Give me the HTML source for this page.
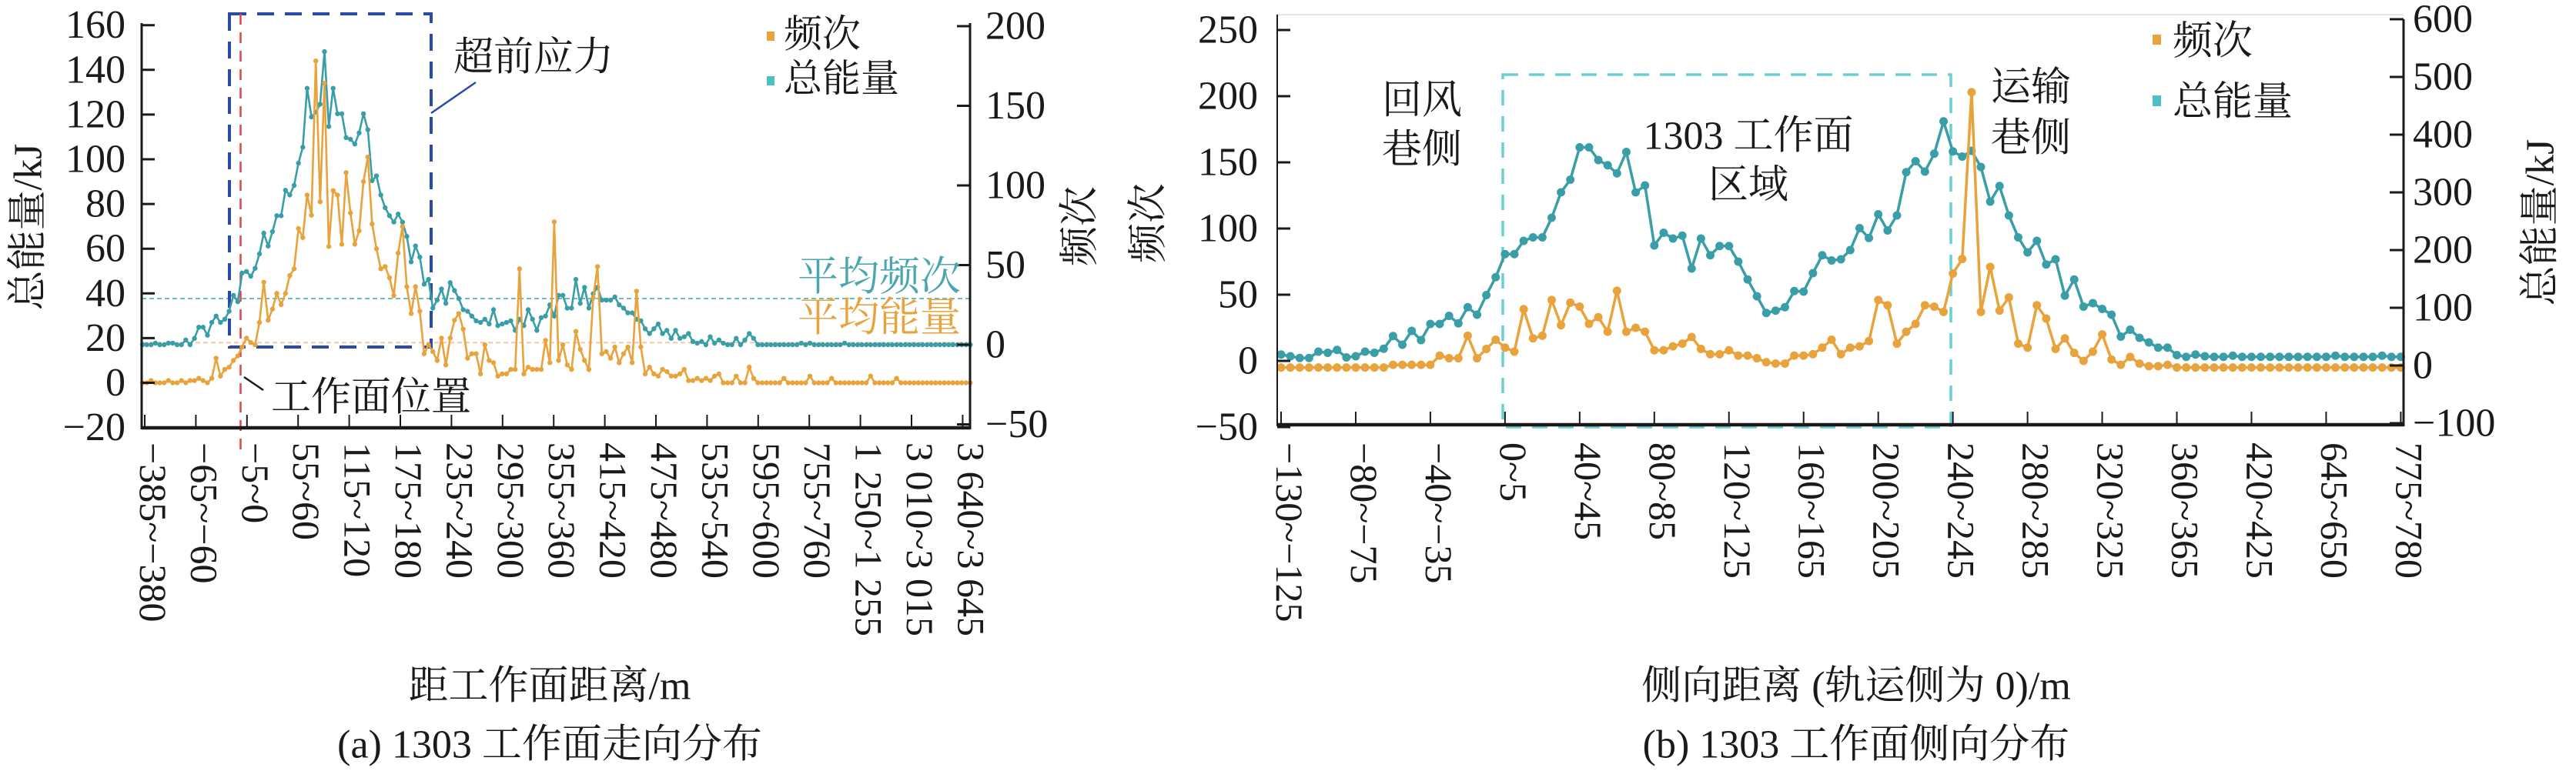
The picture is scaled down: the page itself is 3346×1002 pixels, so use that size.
<!DOCTYPE html>
<html><head><meta charset="utf-8">
<style>
html,body{margin:0;padding:0;background:#fff;}
svg{display:block;}
text{font-family:"Liberation Serif","Noto Serif CJK SC",serif;fill:#1a1a1a;}
</style></head>
<body>
<svg id="chart" width="3346" height="1002" viewBox="0 0 3346 1002" xmlns="http://www.w3.org/2000/svg">
<rect x="0" y="0" width="3346" height="1002" fill="#fff"/>
<g id="gA"></g>
<g id="gB"></g>
</svg>
<script>
// ---------- Chart (a) data ----------
const aXTickLabels = ["−385~−380","−65~−60","−5~0","55~60","115~120","175~180","235~240","295~300","355~360","415~420","475~480","535~540","595~600","755~760","1 250~1 255","3 010~3 015","3 640~3 645"];
const aLeftTicks = [160,140,120,100,80,60,40,20,0,-20];
const aRightTicks = [200,150,100,50,0,-50];
const aFreq = [0,0,1,0,0,0,1,0,0,1,0,1,1,2,1,0,
 2,11,3,6,7,10,12,16,20,18,17,27,45,28,33,40,35,40,48,51,69,65,84,75,144,81,134,61,86,84,62,94,76,62,68,90,101,71,60,51,52,47,39,58,70,43,31,43,32,13,17,14,10,20,8,20,28,
 31,24,11,13,13,4,17,10,9,3,4,4,6,6,51,4,7,6,6,6,19,9,72,10,17,8,6,23,15,10,6,38,52,13,14,11,16,9,13,16,9,41,16,4,7,4,3,6,5,3,3,4,6,1,1,2,1,2,1,3,4,0,0,0,3,0,0,7,2,0,
 0,0,0,0,0,2,0,0,0,0,0,3,0,0,0,0,2,0,0,0,0,0,0,0,0,3,0,0,0,0,0,2,0,0,0,0,0,0,0,0,0,0,0,0,0,0,0,0,0];
const aEnergy = [0,0,0,1,0,0,1,1,0,0,
 3,0,4,11,11,6,14,18,14,16,21,31,27,45,46,43,48,57,70,62,71,81,81,97,94,100,114,124,161,143,146,151,184,137,161,145,145,130,129,126,133,145,135,103,106,94,86,81,77,82,77,68,52,62,55,38,41,23,28,35,26,39,34,
 29,22,21,18,15,14,16,13,22,12,13,14,15,9,16,12,22,16,9,17,18,25,18,31,31,23,23,41,26,36,23,32,36,28,28,28,30,25,23,20,20,16,15,10,7,10,13,7,9,4,9,4,5,7,2,1,2,0,5,1,3,1,0,0,4,0,3,7,4,0,
 0,0,0,0,0,0,0,0,0,1,0,1,0,0,0,0,0,0,0,1,0,0,0,0,0,0,0,0,0,0,0,0,0,0,0,0,0,0,0,0,0,0,0,0,0,0,0,0,0];
const aAvgFreq = [29];
const aAvgEnergy = [18];

// ---------- Chart (b) data ----------
const bXTickLabels = ["−130~−125","−80~−75","−40~−35","0~5","40~45","80~85","120~125","160~165","200~205","240~245","280~285","320~325","360~365","420~425","645~650","775~780"];
const bLeftTicks = [250,200,150,100,50,0,-50];
const bRightTicks = [600,500,400,300,200,100,0,-100];
const bFreq = [-5,-5,-5,-5,-5,-5,-5,-5,-5,-5,-5,-5,-3,-3,-3,-3,-3,
 4,2,2,19,2,9,16,10,7,39,17,19,46,27,44,41,28,33,22,53,22,25,22,8,8,11,13,18,9,5,5,8,4,4,2,-1,-2,-2,4,4,5,10,16,5,10,11,
 15,46,42,13,22,28,42,41,37,66,77,203,37,71,38,48,13,10,42,32,9,17,6,0,7,20,1,-3,3,-2,-4,-4,-3,-5,-5,-5,-5,
 -5,-5,-5,-5,-5,-5,-5,-5,-5,-5,-5,-5,-5,-5,-5,-5,-5,-5,-5,-5,-5];
const bEnergy = [19,16,13,13,24,22,27,14,16,24,22,29,51,36,60,44,72,72,86,73,101,88,122,153,193,193,216,222,222,256,300,322,378,378,356,347,333,370,300,312,208,230,220,225,168,220,191,207,207,180,149,120,91,95,101,129,128,160,191,182,184,200,238,
 221,262,234,260,335,354,336,367,423,371,362,372,344,284,311,260,222,196,216,175,184,121,149,102,108,98,88,50,62,48,40,31,31,18,15,19,16,
 15,15,17,15,15,15,15,15,15,15,15,15,15,17,15,15,15,15,17,15,15];

const NS = "http://www.w3.org/2000/svg";
const ORANGE = "#E8A33C", TEAL = "#3A9EA8";
function mk(parent, tag, attrs, txt){
  const e = document.createElementNS(NS, tag);
  for (const k in attrs) e.setAttribute(k, attrs[k]);
  if (txt !== undefined) e.textContent = txt;
  parent.appendChild(e);
  return e;
}

// ================= Chart A =================
(function(){
  const g = document.getElementById('gA');
  const X0 = 184, X1 = 1260, YB = 556;
  const xA = i => 185 + i * 5.63;
  const yL = v => 497.5 - v * 2.905;
  const yR = v => 448 - v * 2.07;
  const tickX = k => 188 + k * 66.4;

  // average lines
  let e = mk(g,'line',{x1:X0,x2:X1,y1:yR(aAvgFreq[0]),y2:yR(aAvgFreq[0]),stroke:'#6BBFC4','stroke-width':2,'stroke-dasharray':'6,4'});
   
  e = mk(g,'line',{x1:X0,x2:X1,y1:yL(aAvgEnergy[0]),y2:yL(aAvgEnergy[0]),stroke:'#F2C9A8','stroke-width':2,'stroke-dasharray':'6,4'});
   

  // advance stress box
  e = mk(g,'rect',{x:298,y:18,width:262,height:433,fill:'none',stroke:'#2A4BA5','stroke-width':4,'stroke-dasharray':'22,14'});
   
  e = mk(g,'line',{x1:312.5,x2:312.5,y1:18,y2:585,stroke:'#E3424F','stroke-width':2.5,'stroke-dasharray':'14,10'});
   

  // energy series (teal)
  let pts = aEnergy.map((v,i)=>xA(i).toFixed(1)+','+yR(v).toFixed(1)).join(' ');
  e = mk(g,'polyline',{points:pts,fill:'none',stroke:TEAL,'stroke-width':2.6});
   
  aEnergy.forEach((v,i)=>{
    const c = mk(g,'circle',{cx:xA(i),cy:yR(v),r:3.2,fill:TEAL});
    
    
  });
  // frequency series (orange)
  pts = aFreq.map((v,i)=>xA(i).toFixed(1)+','+yL(v).toFixed(1)).join(' ');
  e = mk(g,'polyline',{points:pts,fill:'none',stroke:ORANGE,'stroke-width':2.6});
   
  aFreq.forEach((v,i)=>{
    const c = mk(g,'circle',{cx:xA(i),cy:yL(v),r:3.2,fill:ORANGE});
    
    
  });

  // axes
  e = mk(g,'line',{x1:X0,x2:X0,y1:30,y2:YB+2,stroke:'#1a1a1a','stroke-width':3});
   
  e = mk(g,'line',{x1:X1,x2:X1,y1:30,y2:YB+2,stroke:'#1a1a1a','stroke-width':3});
   
  e = mk(g,'line',{x1:X0,x2:X1,y1:YB,y2:YB,stroke:'#1a1a1a','stroke-width':4.5});
   

  aLeftTicks.forEach(v=>{
    const y = yL(v);
    const t = mk(g,'line',{x1:X0,x2:X0+17,y1:y,y2:y,stroke:'#1a1a1a','stroke-width':3});
     
    const l = mk(g,'text',{x:163,y:y,'text-anchor':'end','dominant-baseline':'central','font-size':52}, v<0?'−'+Math.abs(v):String(v));
     
  });
  aRightTicks.forEach(v=>{
    const y = yR(v);
    const t = mk(g,'line',{x1:X1-17,x2:X1,y1:y,y2:y,stroke:'#1a1a1a','stroke-width':3});
     
    const l = mk(g,'text',{x:1280,y:y,'text-anchor':'start','dominant-baseline':'central','font-size':52}, v<0?'−'+Math.abs(v):String(v));
     
  });
  aXTickLabels.forEach((s,k)=>{
    const x = tickX(k);
    const t = mk(g,'line',{x1:x,x2:x,y1:YB-17,y2:YB,stroke:'#1a1a1a','stroke-width':2});
     
    const l = mk(g,'text',{x:0,y:0,transform:'translate('+(x+11)+',575) rotate(90)','text-anchor':'start','dominant-baseline':'central','font-size':50}, s);
     
  });

  // titles & annotations
  e = mk(g,'text',{x:0,y:0,transform:'translate(37,295) rotate(-90)','text-anchor':'middle','dominant-baseline':'central','font-size':52},'总能量/kJ');
   
  e = mk(g,'text',{x:0,y:0,transform:'translate(1403,294) rotate(-90)','text-anchor':'middle','dominant-baseline':'central','font-size':52},'频次');
   
  e = mk(g,'text',{x:714,y:892,'text-anchor':'middle','dominant-baseline':'central','font-size':52},'距工作面距离/m');
   
  e = mk(g,'text',{x:714,y:968,'text-anchor':'middle','dominant-baseline':'central','font-size':52},'(a) 1303 工作面走向分布');
   
  e = mk(g,'text',{x:589,y:75,'dominant-baseline':'central','font-size':52},'超前应力');
   
  e = mk(g,'line',{x1:618,y1:107,x2:560,y2:147,stroke:'#2A4BA5','stroke-width':2.5});
   
  e = mk(g,'text',{x:352,y:517,'dominant-baseline':'central','font-size':52},'工作面位置');
   
  e = mk(g,'line',{x1:317,y1:490,x2:342,y2:507,stroke:'#1a1a1a','stroke-width':2.5});
   
  e = mk(g,'text',{x:1036,y:360,'dominant-baseline':'central','font-size':53,style:'fill:#4AA7AF'},'平均频次');
   
  e = mk(g,'text',{x:1036,y:413,'dominant-baseline':'central','font-size':53,style:'fill:#E8A33C'},'平均能量');
   
  // legend
  e = mk(g,'rect',{x:996,y:41,width:10,height:12,fill:ORANGE});
   
  e = mk(g,'text',{x:1018,y:44,'dominant-baseline':'central','font-size':50},'频次');
   
  e = mk(g,'rect',{x:996,y:99,width:10,height:12,fill:'#4DBFC6'});
   
  e = mk(g,'text',{x:1018,y:102,'dominant-baseline':'central','font-size':50},'总能量');
   
})();

// ================= Chart B =================
(function(){
  const g = document.getElementById('gB');
  const X0 = 1659, X1 = 3122, YB = 552;
  const xB = i => 1664 + i * 12.12;
  const yL = v => 469 - v * 1.72;
  const yR = v => 475 - v * 0.75;

  let e = mk(g,'line',{x1:X0,x2:X1,y1:19,y2:19,stroke:'#e6e6e6','stroke-width':2});
   
  e = mk(g,'rect',{x:1952,y:97,width:582,height:458,fill:'none',stroke:'#6ACFD4','stroke-width':3.5,'stroke-dasharray':'20,14'});
   

  let pts = bEnergy.map((v,i)=>xB(i).toFixed(1)+','+yR(v).toFixed(1)).join(' ');
  e = mk(g,'polyline',{points:pts,fill:'none',stroke:TEAL,'stroke-width':3.5});
   
  bEnergy.forEach((v,i)=>{
    const c = mk(g,'circle',{cx:xB(i),cy:yR(v),r:5.5,fill:TEAL});
    
    
  });
  pts = bFreq.map((v,i)=>xB(i).toFixed(1)+','+yL(v).toFixed(1)).join(' ');
  e = mk(g,'polyline',{points:pts,fill:'none',stroke:ORANGE,'stroke-width':3.5});
   
  bFreq.forEach((v,i)=>{
    const c = mk(g,'circle',{cx:xB(i),cy:yL(v),r:5.5,fill:ORANGE});
    
    
  });

  e = mk(g,'line',{x1:X0,x2:X0,y1:19,y2:YB+2,stroke:'#1a1a1a','stroke-width':2});
   
  e = mk(g,'line',{x1:X1,x2:X1,y1:25,y2:YB+2,stroke:'#1a1a1a','stroke-width':3});
   
  e = mk(g,'line',{x1:X0,x2:X1,y1:YB,y2:YB,stroke:'#1a1a1a','stroke-width':4.5});
   

  bLeftTicks.forEach(v=>{
    const y = yL(v);
    const t = mk(g,'line',{x1:X0,x2:X0+17,y1:y,y2:y,stroke:'#1a1a1a','stroke-width':3});
     
    const l = mk(g,'text',{x:1634,y:y,'text-anchor':'end','dominant-baseline':'central','font-size':52}, v<0?'−'+Math.abs(v):String(v));
     
  });
  bRightTicks.forEach(v=>{
    const y = yR(v);
    const t = mk(g,'line',{x1:X1-18,x2:X1,y1:y,y2:y,stroke:'#1a1a1a','stroke-width':3});
     
    const l = mk(g,'text',{x:3134,y:y,'text-anchor':'start','dominant-baseline':'central','font-size':52}, v<0?'−'+Math.abs(v):String(v));
     
  });
  bXTickLabels.forEach((s,k)=>{
    const x = xB(k*8);
    const t = mk(g,'line',{x1:x,x2:x,y1:YB-17,y2:YB,stroke:'#1a1a1a','stroke-width':2});
     
    const l = mk(g,'text',{x:0,y:0,transform:'translate('+(x+11)+',575) rotate(90)','text-anchor':'start','dominant-baseline':'central','font-size':50}, s);
     
  });

  e = mk(g,'text',{x:0,y:0,transform:'translate(1492,290) rotate(-90)','text-anchor':'middle','dominant-baseline':'central','font-size':52},'频次');
   
  e = mk(g,'text',{x:0,y:0,transform:'translate(3300,289) rotate(-90)','text-anchor':'middle','dominant-baseline':'central','font-size':52},'总能量/kJ');
   
  e = mk(g,'text',{x:2411,y:892,'text-anchor':'middle','dominant-baseline':'central','font-size':52},'侧向距离 (轨运侧为 0)/m');
   
  e = mk(g,'text',{x:2411,y:968,'text-anchor':'middle','dominant-baseline':'central','font-size':52},'(b) 1303 工作面侧向分布');
   

  [['回风',1847,131,'return-airway-label-1'],['巷侧',1847,195,'return-airway-label-2'],['1303 工作面',2271,177,'working-face-region-label-1'],['区域',2271,241,'working-face-region-label-2'],['运输',2638,114,'haulage-roadway-label-1'],['巷侧',2638,180,'haulage-roadway-label-2']].forEach(a=>{
    const t = mk(g,'text',{x:a[1],y:a[2],'text-anchor':'middle','dominant-baseline':'central','font-size':52},a[0]);
    
    
  });
  e = mk(g,'rect',{x:2796,y:45,width:11,height:13,fill:ORANGE});
   
  e = mk(g,'text',{x:2822,y:54,'dominant-baseline':'central','font-size':52},'频次');
   
  e = mk(g,'rect',{x:2796,y:124,width:11,height:14,fill:'#4DBFC6'});
   
  e = mk(g,'text',{x:2822,y:133,'dominant-baseline':'central','font-size':52},'总能量');
   
})();
</script>
</body></html>
